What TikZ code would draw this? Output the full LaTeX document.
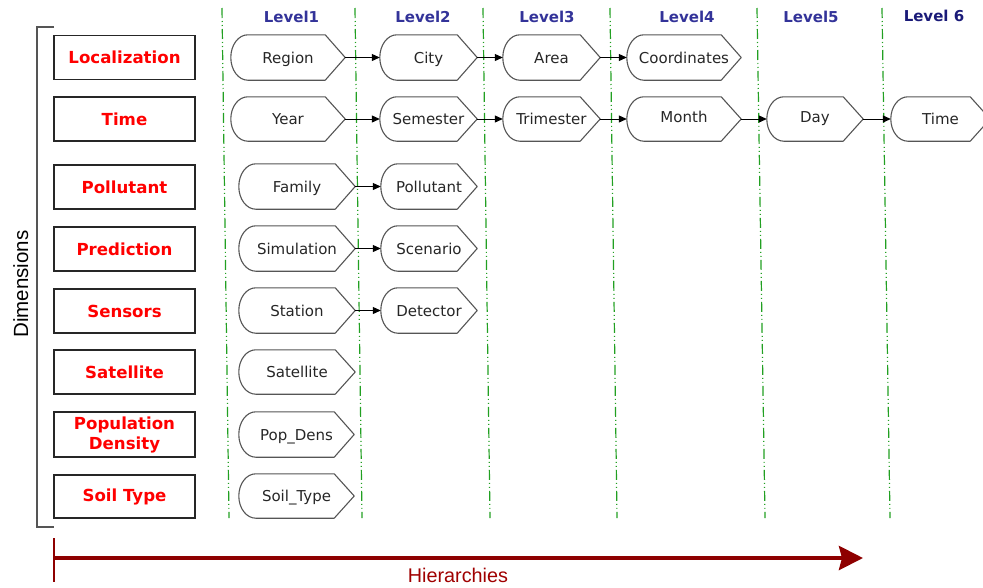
\documentclass[tikz,border=0pt]{standalone}
\usepackage{fontspec}
\setmainfont{DejaVu Sans}
\newfontfamily\arialfont{Liberation Sans}
\usetikzlibrary{arrows.meta,calc}
\definecolor{lvl}{HTML}{333399}
\definecolor{lvlsix}{HTML}{1A1A78}
\definecolor{grn}{HTML}{22A022}
\definecolor{dred}{HTML}{8E0000}
\definecolor{hred}{HTML}{A00000}
\definecolor{frame}{HTML}{555555}
\tikzset{
  dimbox/.style={draw=black!85, line width=1.1pt, minimum width=141, minimum height=44, inner sep=0pt,
    font=\fontsize{16.6}{20}\selectfont\bfseries, text=red, align=center},
  hnode/.style={inner sep=0pt, text height=12.5pt, text depth=1.5pt, font=\fontsize{15}{18}\selectfont, text=black!85},
  shp/.style={draw=frame, line width=1.1pt, line join=round},
  lvlab/.style={font=\fontsize{15}{18}\selectfont\bfseries, text=lvl},
  sep/.style={draw=grn, line width=1.2pt, dash pattern=on 10pt off 3pt on 1pt off 3pt on 1pt off 3pt},
  conn/.style={draw=black, line width=1pt, -{Triangle[length=8pt,width=7pt]}},
  harrow/.style={draw=dred, line width=4pt, -{Stealth[length=24pt,width=24pt,inset=3pt]}}
}
\newcommand\hn[6]{\node[hnode,minimum width={#3-#2},minimum height={#5-#4}] (#1) at ({(#2+#3)/2},{-(#4+#5)/2}) {#6};}
\newcommand\dshape[1]{\draw[shp] let \p1=(#1.north), \p2=(#1.south) in
  ($(#1.north east)+(-20,0)$) -- (#1.east) -- ($(#1.south east)+(-20,0)$) -- ($(#1.south west)+(17,0)$)
  arc[start angle=270,end angle=90,x radius=17pt,y radius={(\y1-\y2)/2}] -- cycle;}
\begin{document}
\begin{tikzpicture}[x=1pt,y=1pt]
\useasboundingbox (0,0) rectangle (983,-587);
% level separators
\draw[sep] (222,-8) -- (229,-518);
\draw[sep] (355,-8) -- (362,-518);
\draw[sep] (483,-8) -- (490,-518);
\draw[sep] (610,-8) -- (617,-518);
\draw[sep] (757,-8) -- (765,-518);
\draw[sep] (882,-8) -- (890,-518);
% level labels
\node[lvlab] (l1) at (291.5,-17) {Level1};
\node[lvlab] (l2) at (423,-17) {Level2};
\node[lvlab] (l3) at (547,-17) {Level3};
\node[lvlab] (l4) at (687,-17) {Level4};
\node[lvlab] (l5) at (811,-17) {Level5};
\node[lvlab,text=lvlsix] (l6) at (934,-16) {Level 6};
% bracket
\draw[draw=frame, line width=1.4pt] (54,-27) -- (37,-27) -- (37,-527) -- (54,-527);
\node[rotate=90, anchor=base, inner sep=0pt, font=\arialfont\fontsize{20.5}{22}\selectfont, text=black] (dimlbl) at (28,-284) {Dimensions};
% dimension boxes
\node[dimbox] (dloc) at (124.5,-57.5) {Localization};
\node[dimbox] (dtime) at (124.5,-119) {Time};
\node[dimbox] (dpol) at (124.5,-187) {Pollutant};
\node[dimbox] (dpred) at (124.5,-249) {Prediction};
\node[dimbox] (dsens) at (124.5,-311) {Sensors};
\node[dimbox] (dsat) at (124.5,-372) {Satellite};
\node[dimbox,minimum height=45] (dpop) at (124.5,-434.5) {Population\\Density};
\node[dimbox,minimum height=43] (dsoil) at (124.5,-496.5) {Soil Type};
% hierarchy nodes
\hn{region}{231}{345}{35}{80}{Region}
\hn{city}{380}{477}{35}{80}{City}
\hn{area}{503}{600}{35}{80}{Area}
\hn{coord}{627}{741}{35}{80}{Coordinates}
\hn{year}{231}{345}{97}{141}{Year}
\hn{sem}{380}{477}{97}{141}{Semester}
\hn{tri}{503}{600}{97}{141}{Trimester}
\hn{month}{627}{741}{97}{141}{\raisebox{2pt}{Month}}
\hn{day}{767}{863}{97}{141}{\raisebox{2pt}{Day}}
\hn{time}{891}{990}{97}{141}{Time}
\hn{family}{239}{355}{164}{209}{Family}
\hn{poll}{381}{477}{164}{209}{Pollutant}
\hn{simu}{239}{355}{226}{271}{Simulation}
\hn{scen}{381}{477}{226}{271}{Scenario}
\hn{stat}{239}{355}{288}{333}{Station}
\hn{detec}{381}{477}{288}{333}{Detector}
\hn{sat}{239}{355}{350}{394}{Satellite}
\hn{pop}{239}{354}{412}{457}{Pop\_Dens}
\hn{soil}{239}{354}{474}{518}{Soil\_Type}
\foreach \nm in {region,city,area,coord,year,sem,tri,month,day,time,family,poll,simu,scen,stat,detec,sat,pop,soil} {\dshape{\nm}}
% connectors
\draw[conn] (region.east) -- (city.west);
\draw[conn] (city.east) -- (area.west);
\draw[conn] (area.east) -- (coord.west);
\draw[conn] (year.east) -- (sem.west);
\draw[conn] (sem.east) -- (tri.west);
\draw[conn] (tri.east) -- (month.west);
\draw[conn] (month.east) -- (day.west);
\draw[conn] (day.east) -- (time.west);
\draw[conn] (family.east) -- (poll.west);
\draw[conn] (simu.east) -- (scen.west);
\draw[conn] (stat.east) -- (detec.west);
% hierarchies arrow
\coordinate (hs) at (54,-558);
\coordinate (he) at (863,-558);
\draw[draw=dred, line width=1.2pt] (54,-538) -- (54,-582);
\draw[harrow] (hs) -- (he);
\node[anchor=base, inner sep=0pt, font=\arialfont\fontsize{19.8}{22}\selectfont, text=hred] (hlab) at (458,-582) {Hierarchies};
\end{tikzpicture}
\end{document}
